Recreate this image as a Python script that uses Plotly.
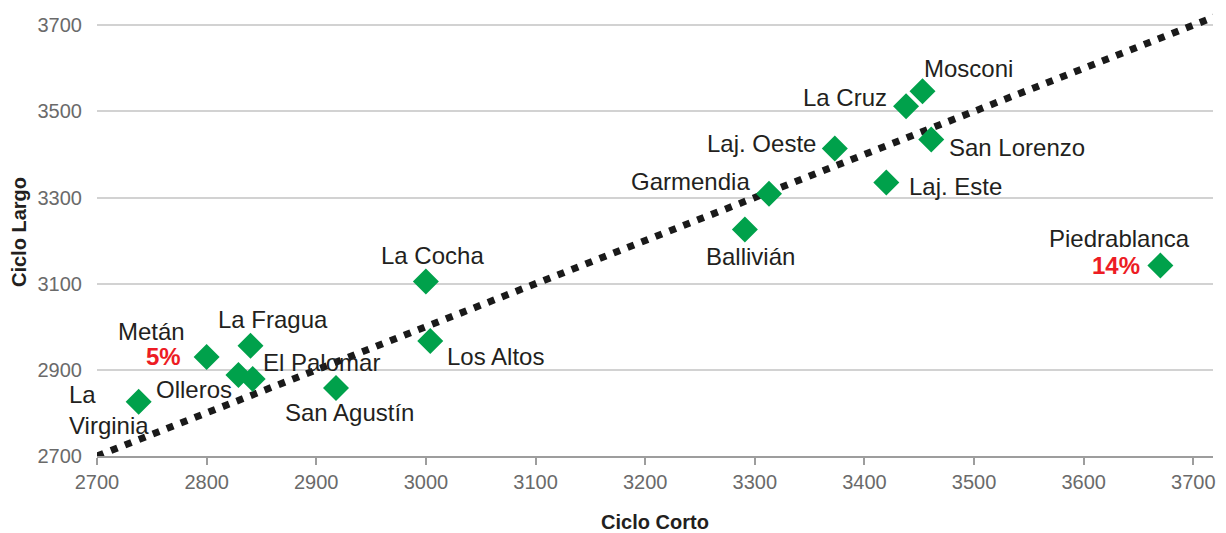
import plotly.graph_objects as go

# Ciclo Corto (x) vs Ciclo Largo (y) per locality
names = ["La<br>Virginia", "Metán", "La Fragua", "Olleros", "El Palomar", "San Agustín",
         "La Cocha", "Los Altos", "Ballivián", "Garmendia", "Laj. Oeste", "Laj. Este",
         "La Cruz", "Mosconi", "San Lorenzo", "Piedrablanca"]
ciclo_corto = [2738, 2800, 2840, 2829, 2842, 2918, 3000, 3004, 3291, 3313, 3373, 3420,
               3438, 3453, 3461, 3670]
ciclo_largo = [2826, 2930, 2956, 2888, 2879, 2858, 3105, 2967, 3226, 3309, 3414, 3335,
               3512, 3547, 3435, 3142]

# highlighted percentages (label, index of point)
highlights = [("5%", 1), ("14%", 15)]

# reference line y = x
ref_line = [2700, 3720]

x_ticks = list(range(2700, 3701, 100))
y_ticks = list(range(2700, 3701, 200))

# label offsets in pixels (dx, dy screen-down)
label_offsets = [(-30, 8), (-55, -25), (23, -26), (-44, 14), (69, -16), (14, 25),
                 (7, -26), (65, 16), (6, 27), (-79, -12), (-73, -5), (69, 4),
                 (-61, -9), (46, -23), (86, 8), (-41, -27)]
highlight_offsets = [(-43, 0), (-44, 0)]

GREEN = "#00a14b"
TEXT = "#231f20"
TICK = "#6a6a6a"
FONT = "Liberation Sans"

fig = go.Figure()

fig.add_trace(go.Scatter(
    x=ref_line, y=ref_line, mode="lines",
    line=dict(color="#1a1a1a", width=7, dash="7px,8px"),
    hoverinfo="skip", showlegend=False,
))

fig.add_trace(go.Scatter(
    x=ciclo_corto, y=ciclo_largo, mode="markers",
    marker=dict(symbol="diamond", size=20, color=GREEN, line=dict(width=0)),
    text=[n.replace("<br>", " ") for n in names],
    hovertemplate="<b>%{text}</b><br>Ciclo Corto: %{x}<br>Ciclo Largo: %{y}<extra></extra>",
    showlegend=False,
))

annotations = []
for name, x, y, (dx, dy) in zip(names, ciclo_corto, ciclo_largo, label_offsets):
    annotations.append(dict(
        x=x, y=y, text=name, showarrow=False, xshift=dx, yshift=-dy,
        align="left", font=dict(family=FONT, size=24, color=TEXT),
    ))
for (label, i), (dx, dy) in zip(highlights, highlight_offsets):
    annotations.append(dict(
        x=ciclo_corto[i], y=ciclo_largo[i], text=f"<b>{label}</b>", showarrow=False,
        xshift=dx, yshift=-dy, font=dict(family=FONT, size=24, color="#ed1c24"),
    ))

# the page body adds an 8px margin, so the figure is sized to fit inside the window
fig.update_layout(
    width=1218, height=525,
    margin=dict(l=89, r=13, t=0, b=77),
    plot_bgcolor="white", paper_bgcolor="white",
    font=dict(family=FONT, color=TEXT),
    annotations=annotations,
    xaxis=dict(
        range=[2700, 3718], tickvals=x_ticks, showgrid=False, zeroline=False,
        showline=True, linecolor="#9d9d9d", linewidth=1.5, automargin=False,
        ticks="outside", ticklen=7, tickcolor="#9d9d9d", tickwidth=1.5,
        tickfont=dict(family=FONT, size=20, color=TICK),
        title=dict(text="<b>Ciclo Corto</b>", font=dict(family=FONT, size=20, color=TEXT), standoff=23),
    ),
    yaxis=dict(
        range=[2700, 3740], tickvals=y_ticks, showgrid=True, gridcolor="#d2d2d2", gridwidth=1.5,
        zeroline=False, showline=False, ticks="", ticklabelstandoff=14, automargin=False,
        tickfont=dict(family=FONT, size=20, color=TICK),
        title=dict(text="<b>Ciclo Largo</b>", font=dict(family=FONT, size=20, color=TEXT), standoff=17),
    ),
)

fig.write_html("out.html")
